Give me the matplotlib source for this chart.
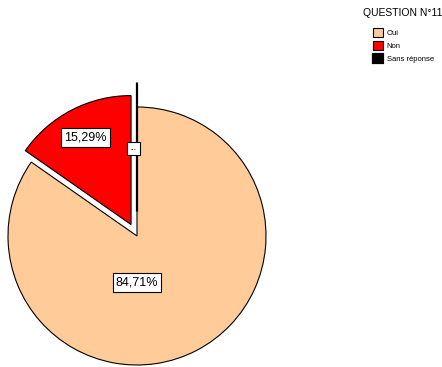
import matplotlib.pyplot as plt

plt.rcParams['font.family'] = ['Liberation Sans', 'DejaVu Sans']

# Réponses à la question 11
categories = ["Oui", "Non", "Sans réponse"]
values = [84.71, 15.29, 0.0]
colors = ["#FFCC99", "#FF0000", "#000000"]
explode = [0.0, 0.1, 0.19]
title = "QUESTION N°11"


def fmt_pct(p):
    if p < 0.005:
        return "..."
    return f"{p:.2f}%".replace(".", ",")


W, H = 442, 367
R = 129.0           # rayon en pixels
CX, CY = 137, 131   # centre du camembert (pixels, depuis le bas)
AX_W, AX_H = 285, 295

fig = plt.figure(figsize=(W / 100, H / 100), dpi=100)
ax = fig.add_axes([0, 0, AX_W / W, AX_H / H])

wedges, texts, autotexts = ax.pie(
    values, colors=colors, explode=explode, startangle=90, counterclock=False,
    autopct=fmt_pct, pctdistance=0.76,
    wedgeprops=dict(edgecolor="black", linewidth=0.8),
    textprops=dict(fontsize=9),
)
wedges[2].set_linewidth(1.6)

for t in autotexts:
    t.set_bbox(dict(boxstyle="square,pad=0.25", facecolor="white",
                    edgecolor="black", linewidth=0.8))
# étiquette "Oui" sous le centre, "..." sur le trait
autotexts[0].set_position((0.0, -0.36))
autotexts[2].set_position((-0.03, 0.68))
autotexts[2].set_fontsize(6)
autotexts[2].set_bbox(dict(boxstyle="square,pad=0.35", facecolor="white",
                           edgecolor="black", linewidth=0.8))

ax.set_aspect("auto")
ax.set_xlim(-CX / R, (AX_W - CX) / R)
ax.set_ylim(-CY / R, (AX_H - CY) / R)
ax.axis("off")

fig.text(363 / W, 1 - 13 / H, title, fontsize=7.5, va="center", ha="left")
fig.legend(wedges, categories, loc="upper left",
           bbox_to_anchor=(373 / W, 1 - 28 / H), frameon=False, fontsize=5.5,
           handlelength=1.3, handleheight=1.45, handletextpad=0.5,
           labelspacing=0.5, borderpad=0, borderaxespad=0)

fig.savefig("out.png", dpi=100)
